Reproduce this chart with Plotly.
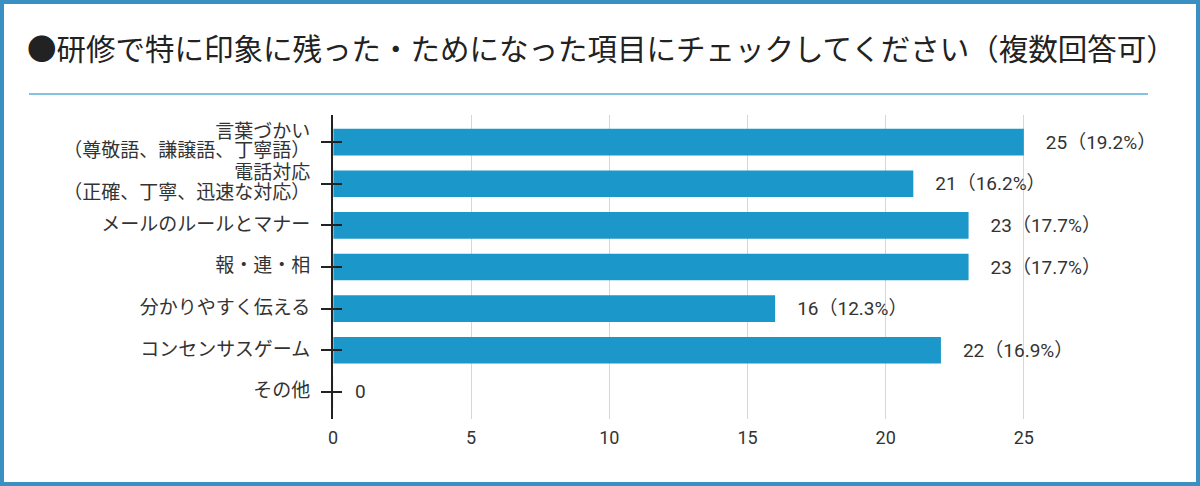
import plotly.graph_objects as go

categories = [
    "言葉づかい<br>（尊敬語、謙譲語、丁寧語）",
    "電話対応<br>（正確、丁寧、迅速な対応）",
    "メールのルールとマナー",
    "報・連・相",
    "分かりやすく伝える",
    "コンセンサスゲーム",
    "その他",
]
counts = [25, 21, 23, 23, 16, 22, 0]
percents = ["19.2%", "16.2%", "17.7%", "17.7%", "12.3%", "16.9%", None]
x_ticks = [0, 5, 10, 15, 20, 25]

title_text = "●研修で特に印象に残った・ためになった項目にチェックしてください（複数回答可）"

labels = []
for c, p in zip(counts, percents):
    if p is None:
        labels.append("　" + str(c))
    else:
        labels.append("　" + f"{c}（{p}）")

# tick text: big glyphs, tight line spacing
LABEL_PX = 19
ticktext = ["<br>".join(f'<span style="font-size:{LABEL_PX}px">{part}</span>'
                        for part in cat.split("<br>")) for cat in categories]

W, H = 1200, 486
ml, mr, mt, mb = 333, 38, 115, 67
xmax = 30

FONT = "Roboto, 'Noto Sans CJK JP', sans-serif"

fig = go.Figure()
fig.add_trace(go.Bar(
    y=categories, x=counts, orientation="h",
    marker=dict(color="#1c97c9", line=dict(width=0)),
    text=labels, textposition="outside", cliponaxis=False,
    textfont=dict(size=19, color="#333333", family=FONT),
    width=0.64,
    hoverinfo="skip",
))
# duplicate invisible trace on yaxis2 to draw inner tick halves
fig.add_trace(go.Bar(
    y=categories, x=[0] * len(categories), orientation="h",
    yaxis="y2", marker=dict(color="rgba(0,0,0,0)"), hoverinfo="skip",
    showlegend=False,
))

pw = W - ml - mr
ph = H - mt - mb

def px_to_paper_x(px):
    return (px - ml) / pw

def px_to_paper_y(py):
    return (H - mb - py) / ph

shapes = [
    dict(type="line", xref="paper", yref="paper",
         x0=px_to_paper_x(29), x1=px_to_paper_x(1148),
         y0=px_to_paper_y(94), y1=px_to_paper_y(94),
         line=dict(color="#5aaed6", width=1.5)),
    dict(type="rect", xref="paper", yref="paper",
         x0=px_to_paper_x(2), x1=px_to_paper_x(W - 2),
         y0=px_to_paper_y(H - 2), y1=px_to_paper_y(2),
         line=dict(color="#3a8fc3", width=4)),
]

yrange = [6.65, -0.65]
fig.update_layout(
    width=W, height=H,
    margin=dict(l=ml, r=mr, t=mt, b=mb),
    paper_bgcolor="white", plot_bgcolor="white",
    showlegend=False,
    barmode="overlay",
    title=dict(text=title_text, x=27 / W, xanchor="left",
               y=1 - 50 / H, yanchor="middle",
               font=dict(size=29.5, color="#222222",
                         family="'Noto Sans CJK JP', sans-serif")),
    font=dict(family=FONT, color="#333333"),
    xaxis=dict(range=[0, xmax], tickvals=x_ticks, showgrid=True,
               gridcolor="#d6d6d6", gridwidth=1, zeroline=False,
               showline=False, ticks="", ticklabelstandoff=6,
               tickfont=dict(size=18, color="#333333"),
               fixedrange=True),
    yaxis=dict(categoryorder="array", categoryarray=categories,
               tickvals=categories, ticktext=ticktext,
               range=yrange, showline=True, linecolor="#222222", linewidth=1.5,
               ticks="outside", ticklen=10, tickcolor="#222222", tickwidth=1.5,
               ticklabelstandoff=8,
               tickfont=dict(size=15, color="#333333",
                             family="'Noto Sans CJK JP', sans-serif"),
               showgrid=False, zeroline=False),
    yaxis2=dict(overlaying="y", side="left", categoryorder="array",
                categoryarray=categories, range=yrange,
                ticks="inside", ticklen=9, tickcolor="#222222", tickwidth=1.5,
                showticklabels=False, showgrid=False, showline=False,
                zeroline=False),
    shapes=shapes,
)

fig.write_html("out.html", config={"displayModeBar": False},
               post_script="document.body.style.margin='0';document.body.style.overflow='hidden';")
